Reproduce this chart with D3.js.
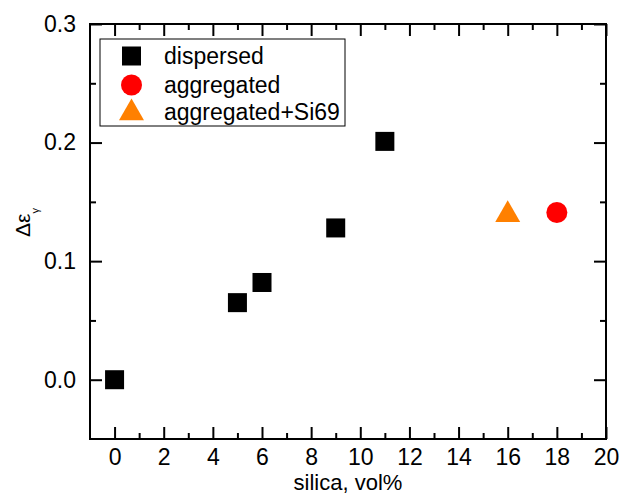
<!DOCTYPE html>
<html><head><meta charset="utf-8">
<script src="https://cdn.jsdelivr.net/npm/d3@7"></script>
<style>body{margin:0;background:#fff}svg{display:block}text{font-family:"Liberation Sans",Arial,sans-serif;fill:#000}</style>
</head><body><svg id="c" width="621" height="496"></svg>
<script>
const dispersedX = [0, 5, 6, 9, 11];
const dispersedY = [0.0, 0.065, 0.082, 0.128, 0.201];
const aggregatedX = [18];
const aggregatedY = [0.141];
const aggSi69X = [16];
const aggSi69Y = [0.140];
const xTicks = [0,2,4,6,8,10,12,14,16,18,20];
const yTicks = [0.0,0.1,0.2,0.3];
const legendLabels = ["dispersed","aggregated","aggregated+Si69"];

const svg = d3.select("#c");
const L=90,R=606,T=24,B=439;
const x = d3.scaleLinear().domain([-1,20]).range([L,R]);
const y = d3.scaleLinear().domain([-0.05,0.3]).range([B,T]);
const fs = 23;

const xMinor = d3.range(-1,21,1).filter(v=>v%2!==0 && v>-1);
const yMinor = [-0.05,0.05,0.15,0.25].filter(v=>v>-0.05);

function axis(gen, tr, major, minor, fmt, labels){
  const g = svg.append("g").attr("transform",tr);
  g.call(gen.tickValues(major).tickSize(-12).tickPadding(labels?8:0).tickFormat(labels?fmt:""));
  g.select(".domain").remove();
  g.selectAll(".tick line").attr("stroke","#000").attr("stroke-width",2);
  g.selectAll(".tick text").style("font-size",fs+"px").attr("fill","#000");
  const g2 = svg.append("g").attr("transform",tr);
  g2.call(gen.tickValues(minor).tickSize(-6).tickFormat(""));
  g2.select(".domain").remove();
  g2.selectAll(".tick line").attr("stroke","#000").attr("stroke-width",2);
  return g;
}
const gx = axis(d3.axisBottom(x), `translate(0,${B})`, xTicks, xMinor, d3.format("d"), true);
gx.selectAll(".tick text").attr("dy","0.8em");
axis(d3.axisTop(x), `translate(0,${T})`, xTicks, xMinor, null, false);
const gy = axis(d3.axisLeft(y), `translate(${L},0)`, yTicks, yMinor, d3.format(".1f"), true);
gy.selectAll(".tick text").attr("x",-14);
axis(d3.axisRight(y), `translate(${R},0)`, yTicks, yMinor, null, false);

svg.append("rect").attr("x",L).attr("y",T).attr("width",R-L).attr("height",B-T)
  .attr("fill","none").attr("stroke","#000").attr("stroke-width",2);

// data
const sq = 19;
svg.append("g").selectAll("rect").data(dispersedX.map((d,i)=>[d,dispersedY[i]])).join("rect")
  .attr("x",d=>x(d[0])-sq/2).attr("y",d=>y(d[1])-sq/2).attr("width",sq).attr("height",sq).attr("fill","#000");
svg.append("g").selectAll("circle").data(aggregatedX.map((d,i)=>[d,aggregatedY[i]])).join("circle")
  .attr("cx",d=>x(d[0])).attr("cy",d=>y(d[1])).attr("r",10.5).attr("fill","#ff0000");
const tri = d3.symbol().type(d3.symbolTriangle).size(270);
svg.append("g").selectAll("path").data(aggSi69X.map((d,i)=>[d,aggSi69Y[i]])).join("path")
  .attr("d",tri).attr("transform",d=>`translate(${x(d[0])},${y(d[1])+1})`).attr("fill","#ff8000");

// legend
svg.append("rect").attr("x",100).attr("y",39).attr("width",245).attr("height",87)
  .attr("fill","#fff").attr("stroke","#000").attr("stroke-width",1);
const ly = [56,85,112];
svg.append("rect").attr("x",131.5-sq/2).attr("y",ly[0]-sq/2).attr("width",sq).attr("height",sq).attr("fill","#000");
svg.append("circle").attr("cx",131.5).attr("cy",ly[1]).attr("r",10.5).attr("fill","#ff0000");
svg.append("path").attr("d",tri).attr("transform",`translate(131.5,${ly[2]+1})`).attr("fill","#ff8000");
legendLabels.forEach((t,i)=>{
  svg.append("text").attr("x",164).attr("y",ly[i]).attr("dy","0.35em").style("font-size",fs+"px").text(t);
});

// axis titles
svg.append("text").attr("x",(L+R)/2).attr("y",490).attr("text-anchor","middle").style("font-size","22px").text("silica, vol%");
const yt = svg.append("text").attr("transform","translate(30,237) rotate(-90)").attr("text-anchor","start").style("font-size","21px");
yt.append("tspan").text("Δε");
yt.append("tspan").attr("dy",9).style("font-size","11px").text("γ");
</script></body></html>
